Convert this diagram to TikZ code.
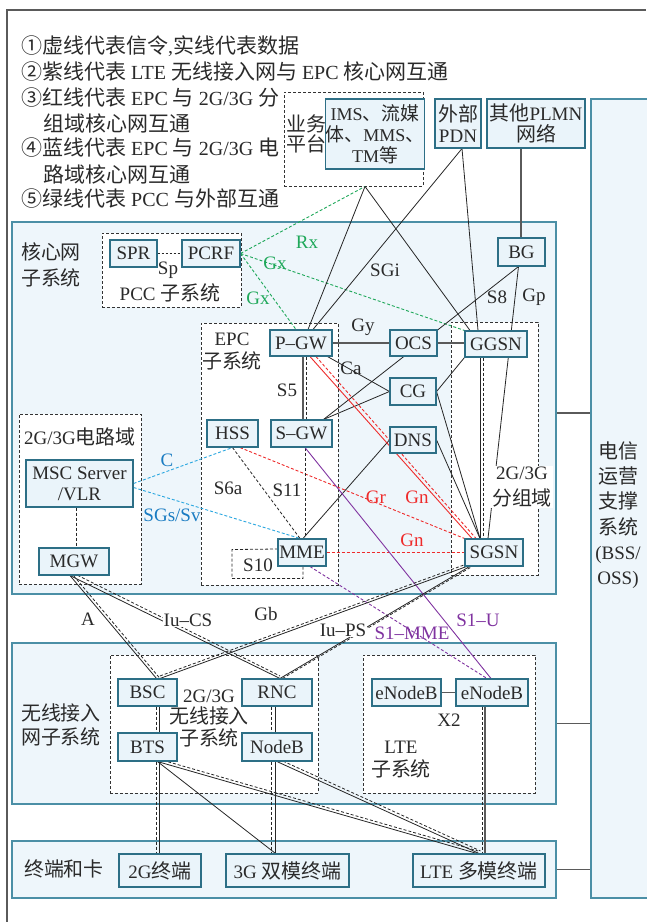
\documentclass[tikz,border=0pt]{standalone}
\usepackage{fontspec}
\setmainfont{Liberation Serif}
\newfontfamily\cjkfont{Noto Sans CJK SC}[Scale=1.05]
\newcommand\zh[1]{{\cjkfont #1}}
\newcommand\fs{\fontsize{19}{21}\selectfont}
\newcommand\lfs{\fontsize{20}{22}\selectfont}
\usetikzlibrary{calc}
\definecolor{regfill}{HTML}{EEF6FB}
\definecolor{regline}{HTML}{4B8FA6}
\definecolor{nodefill}{HTML}{EAF4FA}
\definecolor{nodeline}{HTML}{2D6F86}
\definecolor{txt}{HTML}{2A2A2A}
\definecolor{lgray}{HTML}{5A5A5A}
\definecolor{dgray}{HTML}{333333}
\definecolor{cgreen}{HTML}{1FA85A}
\definecolor{cred}{HTML}{EE2B2B}
\definecolor{cblueline}{HTML}{2AA7E0}
\definecolor{cbluetxt}{HTML}{1A7CC2}
\definecolor{cpurple}{HTML}{8033A0}
\pgfdeclarelayer{regions}
\pgfdeclarelayer{subregions}
\pgfdeclarelayer{links}
\pgfsetlayers{regions,subregions,links,main}
\newcommand\bx[7][]{\node[nbox,#1,minimum width={(#5-#3)*1pt},minimum height={(#6-#4)*1pt}] (#2) at ({(#3+#5)/2},{(#4+#6)/2}) {#7};}
\begin{document}
\begin{tikzpicture}[x=1pt,y=-1pt,font=\fs,text=txt,
  nbox/.style={draw=nodeline,fill=nodefill,line width=1.1pt,inner sep=0pt,align=center,text=txt,font=\fs},
  region/.style={draw=regline,fill=regfill,line width=1.3pt},
  subbox/.style={draw=dgray,fill=white,line width=0.9pt,dash pattern=on 3pt off 2pt},
  sol/.style={draw=black!85,line width=0.8pt},
  dsh/.style={draw=black!85,line width=0.8pt,dash pattern=on 3pt off 2pt},
  gsol/.style={draw=lgray,line width=1.4pt},
  grn/.style={draw=cgreen,line width=0.9pt,dash pattern=on 3pt off 2pt},
  redsol/.style={draw=cred,line width=0.9pt},
  reddsh/.style={draw=cred,line width=0.9pt,dash pattern=on 3pt off 2pt},
  bludsh/.style={draw=cblueline,line width=0.9pt,dash pattern=on 3pt off 2pt},
  pursol/.style={draw=cpurple,line width=0.9pt},
  purdsh/.style={draw=cpurple,line width=0.9pt,dash pattern=on 3pt off 2pt},
  lab/.style={inner sep=1pt,font=\fs,text=txt},
  leg/.style={anchor=west,inner sep=0pt,font=\lfs,text=txt}]
\useasboundingbox (0,0) rectangle (646,922);
\draw[lgray,line width=1.5pt] (7,922) -- (7,10) -- (646,10);

% legend
\node[leg] (l1) at (21,46) {\zh{①虚线代表信令},\zh{实线代表数据}};
\node[leg] (l2) at (21,72) {\zh{②紫线代表} LTE \zh{无线接入网与} EPC \zh{核心网互通}};
\node[leg] (l3) at (21,98) {\zh{③红线代表} EPC \zh{与} 2G/3G \zh{分}};
\node[leg] (l4) at (43,123) {\zh{组域核心网互通}};
\node[leg] (l5) at (21,148) {\zh{④蓝线代表} EPC \zh{与} 2G/3G \zh{电}};
\node[leg] (l6) at (43,174) {\zh{路域核心网互通}};
\node[leg] (l7) at (21,199) {\zh{⑤绿线代表} PCC \zh{与外部互通}};

% regions
\begin{pgfonlayer}{regions}
\bx[region]{core}{12}{222}{556}{594}{}
\bx[region]{radio}{12}{643}{556}{804}{}
\bx[region]{term}{12}{841}{556}{898}{}
\bx[region]{oss}{591}{99}{661}{898}{}
\end{pgfonlayer}
\begin{pgfonlayer}{subregions}
\bx[subbox]{svc}{284}{92}{423}{186}{}
\bx[subbox]{pcc}{102}{233}{241}{307}{}
\bx[subbox]{epc}{201}{323}{338}{585}{}
\bx[subbox]{ps}{451}{322}{538}{575}{}
\bx[subbox]{cs}{19}{414}{141}{584}{}
\bx[subbox]{ran}{110}{655}{318}{793}{}
\bx[subbox]{lte}{363}{655}{535}{793}{}
\end{pgfonlayer}

% nodes
\bx[font=\fontsize{18}{21}\selectfont]{ims}{332}{99}{418}{169}{IMS\zh{、流媒}\\\zh{体、}MMS\zh{、}\\TM\zh{等}}
\bx{pdn}{435}{99}{481}{148}{\zh{外部}\\PDN}
\bx{plmn}{487}{99}{585}{148}{\zh{其他}PLMN\\\zh{网络}}
\bx{spr}{110}{240}{157}{267}{SPR}
\bx{pcrf}{182}{240}{240}{267}{PCRF}
\bx{bg}{498}{238}{545}{266}{BG}
\bx{pgw}{270}{330}{332}{356}{P--GW}
\bx{ocs}{390}{330}{437}{356}{OCS}
\bx{ggsn}{465}{331}{527}{357}{GGSN}
\bx{cg}{390}{378}{436}{405}{CG}
\bx{dns}{390}{427}{436}{453}{DNS}
\bx{hss}{207}{420}{258}{447}{HSS}
\bx{sgw}{271}{420}{332}{447}{S--GW}
\bx{mme}{278}{539}{326}{566}{MME}
\bx{sgsn}{465}{539}{523}{566}{SGSN}
\bx{msc}{26}{460}{133}{507}{MSC Server\\/VLR}
\bx{mgw}{39}{548}{109}{575}{MGW}
\bx{bsc}{118}{679}{177}{706}{BSC}
\bx{rnc}{242}{679}{312}{706}{RNC}
\bx{bts}{118}{733}{177}{761}{BTS}
\bx{nodeb}{242}{733}{312}{761}{NodeB}
\bx{enba}{372}{679}{441}{706}{eNodeB}
\bx{enbb}{456}{679}{528}{706}{eNodeB}
\bx{ttwo}{119}{854}{201}{887}{2G\zh{终端}}
\bx{tthree}{226}{854}{349}{887}{3G \zh{双模终端}}
\bx{tlte}{413}{854}{545}{887}{LTE \zh{多模终端}}

% region texts
\node[lab,align=center,font=\fontsize{19}{20}\selectfont] (tsvc) at (306,134) {\zh{业务}\\\zh{平台}};
\node[lab,align=center,font=\fontsize{19}{26}\selectfont] (tcore) at (51,265) {\zh{核心网}\\\zh{子系统}};
\node[lab] (tpcc) at (170,293) {PCC \zh{子系统}};
\node[lab,align=center,font=\fontsize{19}{23}\selectfont] (tepc) at (232,352) {EPC\\\zh{子系统}};
\node[lab,align=center,fill=white,font=\fontsize{19}{26}\selectfont] (tps) at (522,487) {2G/3G\\\zh{分组域}};
\node[lab] (tcs) at (80,437) {2G/3G\zh{电路域}};
\node[lab,align=center,font=\fontsize{19}{24}\selectfont] (tradio) at (61,725) {\zh{无线接入}\\\zh{网子系统}};
\node[lab,align=center,font=\fontsize{19}{21.5}\selectfont] (tran) at (209,718) {2G/3G\\\zh{无线接入}\\\zh{子系统}};
\node[lab,align=center,font=\fontsize{19}{23}\selectfont] (tlteb) at (401,760) {LTE\\\zh{子系统}};
\node[lab] (tterm) at (64,869) {\zh{终端和卡}};
\node[lab,align=center,font=\fontsize{19}{25.3}\selectfont] (toss) at (618,515) {\zh{电信}\\\zh{运营}\\\zh{支撑}\\\zh{系统}\\(BSS/\\OSS)};

% connectors
\begin{pgfonlayer}{links}
\coordinate (c1) at ([yshift=-5pt]core.east);
\draw[gsol] (c1) -- (c1 -| oss.west);
\draw[gsol] (radio.east) -- (radio.east -| oss.west);
\draw[gsol] (term.east) -- (term.east -| oss.west);
% green
\draw[grn] (pcrf.east) -- ([xshift=11.5pt]svc.south);
\draw[grn] (pcrf.east) -- (ggsn.north west);
\draw[grn] (pcrf.east) -- ([xshift=-5pt]pgw.north);
\draw[dsh,dash pattern=on 2pt off 2pt] (spr.east) -- (pcrf.west);
% black solid
\draw[sol] ([xshift=11.5pt]svc.south) -- ([xshift=7pt]pgw.north);
\draw[sol] ([xshift=11.5pt]svc.south) -- ([xshift=-26pt]ggsn.north);
\draw[sol] ([xshift=4pt]pdn.south) -- ([xshift=12pt]pgw.north);
\draw[sol] ([xshift=4pt]pdn.south) -- ([xshift=-18pt]ggsn.north);
\draw[gsol] ([xshift=-15pt]plmn.south) -- ([xshift=-0.5pt]bg.north);
\draw[sol] ([xshift=-3pt]bg.south) -- ([xshift=-6pt]sgsn.north);
\draw[sol] ([xshift=-3pt]bg.south) -- ([xshift=-9pt]sgw.north east);
\draw[gsol] (pgw.east) -- (ocs.west);
\draw[gsol] (ocs.east) -- (ocs.east -| ggsn.west);
\draw[sol] ([xshift=-5pt]pgw.south east) -- (cg.west);
\draw[sol] ([xshift=-9pt]sgw.north east) -- (cg.west);
\draw[sol] (cg.east) -- (ggsn.south west);
\draw[sol] (cg.east) -- ([xshift=-14pt]sgsn.north);
\draw[sol] (dns.east) -- ([xshift=-14pt]sgsn.north);
\draw[sol] (dns.west) -- ([xshift=1pt]mme.north);
\draw[sol] ([xshift=-16pt]ggsn.south) -- ([xshift=-14pt]sgsn.north);
\draw[dsh] ([xshift=-13pt]ggsn.south) -- ([xshift=-11pt]sgsn.north);
% red
\draw[redsol] ([xshift=9pt]pgw.south) -- ([xshift=-22pt]sgsn.north);
\draw[reddsh] ([xshift=15pt]pgw.south) -- ([xshift=-18pt]sgsn.north);
\draw[reddsh] ([xshift=7.5pt]hss.south) -- (sgsn.north west);
\draw[reddsh] (mme.east) -- (sgsn.west);
% blue
\draw[bludsh] (msc.east) -- (hss.south);
\draw[bludsh] ([yshift=-4pt]msc.east) -- ([xshift=-2pt]mme.north);
% black dashed in EPC
\draw[dsh] (hss.south) -- ([xshift=-2pt]mme.north);
\draw[gsol] ([xshift=2pt]pgw.south) -- ([xshift=1.5pt]sgw.north);
\draw[dsh] ([xshift=5pt]pgw.south) -- ([xshift=4.5pt]sgw.north);
\draw[dsh] ([xshift=3.5pt]sgw.south) -- ([xshift=3pt]mme.north);
\draw[dsh] ([xshift=1pt]mme.south) -- ++(0,12) -- ++(-71,0) -- ++(0,-29) -- ([yshift=3.5pt]mme.west);
\draw[dsh] ([xshift=-3.5pt]msc.south) -- ([xshift=2pt]mgw.north);
% purple
\draw[purdsh] ([xshift=8pt]mme.south) -- ([xshift=-5pt]enbb.north);
\draw[pursol] ([xshift=3.5pt]sgw.south) -- ([xshift=-1pt]enbb.north);
% radio links
\draw[sol] ([xshift=-4pt]mgw.south) -- ([xshift=9pt]bsc.north);
\draw[dsh] ([xshift=-0.5pt]mgw.south) -- ([xshift=12.5pt]bsc.north);
\draw[sol] ([xshift=-4pt]mgw.south) -- ([xshift=3pt]rnc.north);
\draw[dsh] ([xshift=-1pt,yshift=2.5pt]mgw.south) -- ([xshift=3pt,yshift=2.5pt]rnc.north);
\draw[sol] ([xshift=12.5pt]bsc.north) -- ([xshift=2pt]sgsn.south west);
\draw[dsh] ([xshift=12.5pt,yshift=2.5pt]bsc.north) -- ([xshift=2pt,yshift=2.5pt]sgsn.south west);
\draw[sol] ([xshift=3pt]rnc.north) -- ([xshift=5pt]sgsn.south west);
\draw[dsh] ([xshift=5.5pt]rnc.north) -- ([xshift=7.5pt]sgsn.south west);
\draw[dsh] ([xshift=8.5pt]bsc.south) -- ([xshift=8.5pt]bts.north);
\draw[sol] ([xshift=11.5pt]bsc.south) -- ([xshift=11.5pt]bts.north);
\draw[dsh] ([xshift=8.5pt]bts.south) -- ([xshift=-4pt]ttwo.north);
\draw[sol] ([xshift=11.5pt]bts.south) -- ([xshift=-1pt]ttwo.north);
\draw[dsh] ([xshift=-6pt]rnc.south) -- ([xshift=-6pt]nodeb.north);
\draw[sol] ([xshift=-2pt]rnc.south) -- ([xshift=-2pt]nodeb.north);
\draw[dsh] ([xshift=-6pt]nodeb.south) -- ([xshift=-16.5pt]tthree.north);
\draw[sol] ([xshift=-2pt]nodeb.south) -- ([xshift=-12.5pt]tthree.north);
\draw[dsh] ([xshift=-10pt]enbb.south) -- ([xshift=3pt]tlte.north);
\draw[gsol] ([xshift=-7pt]enbb.south) -- ([xshift=6pt]tlte.north);
\draw[sol] ([xshift=10pt]bts.south) -- ([xshift=-2pt]tlte.north);
\draw[dsh] ([xshift=11pt,yshift=2.5pt]bts.south) -- ([xshift=-1pt,yshift=2.5pt]tlte.north);
\draw[sol] ([xshift=10pt]bts.south) -- ([xshift=-12pt]tthree.north);
\draw[sol] (nodeb.south) -- (tlte.north);
\draw[dsh] ([xshift=1.5pt,yshift=2.5pt]nodeb.south) -- ([xshift=1.5pt,yshift=2.5pt]tlte.north);
\draw[gsol] (enba.east) -- (enbb.west);
\end{pgfonlayer}

% labels
\node[lab,text=cgreen] (lrx) at (307,242) {Rx};
\node[lab,text=cgreen] (lgx1) at (275,263) {Gx};
\node[lab,text=cgreen] (lgx2) at (258,298) {Gx};
\node[lab] (lsp) at (168,270) {Sp};
\node[lab] (lsgi) at (385,270) {SGi};
\node[lab] (ls8) at (497,297) {S8};
\node[lab] (lgp) at (534,297) {Gp};
\node[lab] (lgy) at (363,327) {Gy};
\node[lab] (lca) at (351,368) {Ca};
\node[lab] (ls5) at (287,390) {S5};
\node[lab] (ls6a) at (228,488) {S6a};
\node[lab] (ls11) at (287,490) {S11};
\node[lab] (ls10) at (258,565) {S10};
\node[lab,text=cred] (lgr) at (376,497) {Gr};
\node[lab,text=cred] (lgn1) at (417,497) {Gn};
\node[lab,text=cred] (lgn2) at (412,540) {Gn};
\node[lab,text=cbluetxt] (lc) at (167,460) {C};
\node[lab,text=cbluetxt] (lsgs) at (172,515) {SGs/Sv};
\node[lab] (la) at (88,619) {A};
\node[lab,fill=white] (liucs) at (188,620) {Iu--CS};
\node[lab] (lgb) at (266,614) {Gb};
\node[lab,fill=white] (liups) at (343,630) {Iu--PS};
\node[lab,text=cpurple] (ls1mme) at (412,633) {S1--MME};
\node[lab,text=cpurple] (ls1u) at (478,620) {S1--U};
\node[lab] (lx2) at (449,720) {X2};
\end{tikzpicture}
\end{document}
